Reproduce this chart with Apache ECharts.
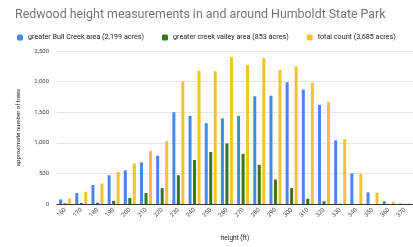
<!DOCTYPE html>
<html>
<head>
<meta charset="utf-8">
<script src="https://cdn.jsdelivr.net/npm/echarts@6/dist/echarts.min.js"></script>
<style>
  html, body { margin: 0; padding: 0; background: #fff; }
  #chart { width: 413px; height: 247px; }
</style>
</head>
<body>
<div id="chart"></div>
<script>
// height buckets (ft)
const heights = ['160', '170', '180', '190', '200', '210', '220', '230', '240', '250', '260',
  '270', '280', '290', '300', '310', '320', '330', '340', '350', '360', '370'];

const bullCreek = [75, 180, 310, 470, 550, 680, 790, 1500, 1440, 1320, 1400,
  1440, 1760, 1770, 1990, 1870, 1620, 1040, 500, 190, 45, 8];
const creekValley = [10, 15, 20, 50, 100, 180, 260, 470, 720, 850, 990,
  820, 640, 400, 260, 85, 45, 5, 0, 0, 0, 0];
const totalCount = [90, 200, 335, 525, 660, 870, 1030, 2000, 2180, 2170, 2400,
  2270, 2390, 2190, 2250, 1980, 1670, 1060, 490, 185, 38, 8];

const yTicks = { min: 0, max: 2500, interval: 500 };

const COLORS = {
  bull: '#4a86e8',
  valley: '#38761d',
  total: '#f1c232',
};

const chart = echarts.init(document.getElementById('chart'));

function barSeries(name, data, color) {
  return {
    name, type: 'bar', data,
    barWidth: 3, barGap: '50%',
    itemStyle: { color },
  };
}

chart.setOption({
  animation: false,
  backgroundColor: '#fff',
  textStyle: { fontFamily: 'Roboto, sans-serif' },
  title: {
    text: 'Redwood height measurements in and around Humboldt State Park',
    left: 10, top: 4,
    textStyle: { fontSize: 12.4, fontWeight: 'normal', color: '#757575' },
  },
  legend: {
    left: 12, top: 29,
    itemWidth: 6, itemHeight: 6, itemGap: 18,
    icon: 'roundRect',
    textStyle: { fontSize: 7.2, color: '#222', padding: [0, 0, 0, 0] },
    data: ['greater Bull Creek area (2,199 acres)', 'greater creek valley area (853 acres)', 'total count (3,685 acres)'],
  },
  grid: { left: 57, right: 0, top: 51, bottom: 39 },
  xAxis: {
    type: 'category',
    data: heights,
    name: 'height (ft)',
    nameLocation: 'middle', nameGap: 31,
    nameTextStyle: { fontSize: 6.5, color: '#222' },
    axisTick: { show: false },
    axisLine: { lineStyle: { color: '#333', width: 1 } },
    axisLabel: { rotate: 45, fontSize: 6, color: '#444', interval: 0, margin: 5 },
  },
  yAxis: {
    type: 'value',
    min: yTicks.min, max: yTicks.max, interval: yTicks.interval,
    name: 'approximate number of trees',
    nameLocation: 'middle', nameGap: 36,
    nameTextStyle: { fontSize: 6, color: '#222' },
    axisLabel: {
      fontSize: 6, color: '#444', margin: 8,
      formatter: (v) => v.toLocaleString('en-US'),
    },
    splitLine: { lineStyle: { color: '#e6e6e6' } },
  },
  series: [
    barSeries('greater Bull Creek area (2,199 acres)', bullCreek, COLORS.bull),
    barSeries('greater creek valley area (853 acres)', creekValley, COLORS.valley),
    barSeries('total count (3,685 acres)', totalCount, COLORS.total),
  ],
});
</script>
</body>
</html>
